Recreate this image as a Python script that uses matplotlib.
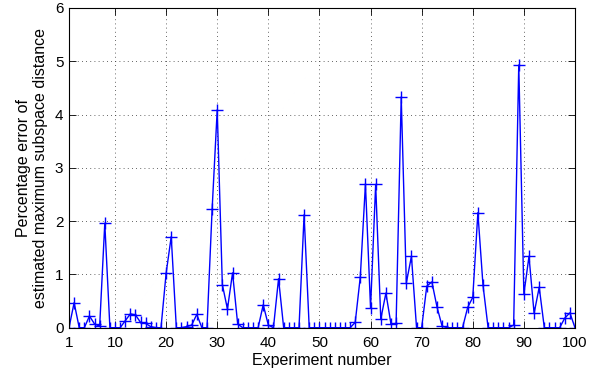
import numpy as np
import matplotlib
matplotlib.use("Agg")
import matplotlib.pyplot as plt

# datos
experiment = list(range(1, 101))
error_pct = [
    0, 0.47, 0, 0, 0.22, 0.07, 0.03, 1.96, 0, 0,
    0, 0.13, 0.26, 0.24, 0.10, 0.08, 0.02, 0, 0, 1.02,
    1.71, 0, 0, 0.02, 0.05, 0.25, 0, 0, 2.22, 4.09,
    0.81, 0.35, 1.03, 0.07, 0, 0, 0, 0, 0.43, 0.05,
    0, 0.92, 0, 0, 0, 0, 2.12, 0, 0, 0,
    0, 0, 0, 0, 0, 0, 0.10, 0.96, 2.70, 0.37,
    2.69, 0.16, 0.65, 0.07, 0.08, 4.33, 0.84, 1.34, 0, 0,
    0.78, 0.86, 0.39, 0.03, 0, 0, 0, 0, 0.38, 0.57,
    2.16, 0.80, 0, 0, 0, 0, 0, 0.05, 4.93, 0.63,
    1.34, 0.27, 0.76, 0, 0, 0, 0, 0.18, 0.28, 0,
]
x_ticks = [1, 10, 20, 30, 40, 50, 60, 70, 80, 90, 100]
y_ticks = [0, 1, 2, 3, 4, 5, 6]

plt.rcParams['font.family'] = ['Liberation Sans', 'DejaVu Sans']

fig = plt.figure(figsize=(6.08, 3.73), dpi=100)
ax = fig.add_axes([0.1135, 0.1214, 0.8322, 0.8572])

ax.plot(experiment, error_pct, color='#0000ff', linewidth=1.0,
        marker='+', markersize=9, markeredgewidth=1.0)

ax.set_xlim(1, 100)
ax.set_ylim(0, 6)
ax.set_xticks(x_ticks)
ax.set_yticks(y_ticks)
ax.grid(True, linestyle=(0, (1, 4)), color='#333333', linewidth=0.6)
ax.tick_params(direction='in', top=True, right=True, length=5, width=0.6,
               labelsize=11)
ax.tick_params(axis='x', pad=6)
ax.tick_params(axis='y', pad=4)
for s in ax.spines.values():
    s.set_linewidth(0.8)

ax.set_xlabel("Experiment number", fontsize=11.5, labelpad=2)
ax.set_ylabel("Percentage error of\nestimated maximum subspace distance",
              fontsize=11.5, labelpad=5)

fig.savefig("out.png", dpi=100)
